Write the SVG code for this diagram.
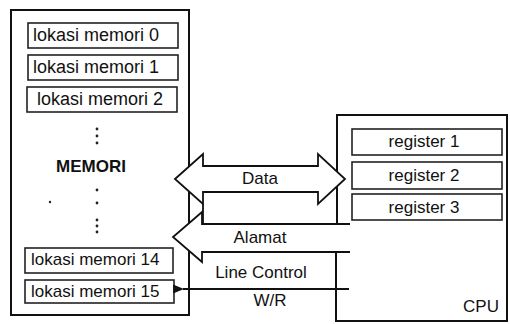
<svg xmlns="http://www.w3.org/2000/svg" width="510" height="324" viewBox="0 0 510 324">
<defs>
<style>
.box{fill:#fff;stroke:#111;stroke-width:2}
.cell{fill:#fff;stroke:#222;stroke-width:1.6}
.t{font-family:"Liberation Sans",Arial,sans-serif;font-size:17px;fill:#111}
.c{font-size:18px}
.b{font-weight:bold}
.dot{fill:#222}
.ln{fill:none;stroke:#111;stroke-width:1.8}
.arr{fill:#fff;stroke:#111;stroke-width:1.8;stroke-linejoin:miter}
</style>
<marker id="ah" viewBox="0 0 12 10" refX="1" refY="5" markerWidth="12" markerHeight="9" orient="auto-start-reverse" markerUnits="userSpaceOnUse">
<path d="M12,0 L0,5 L12,10 z" fill="#111"/>
</marker>
</defs>
<rect width="510" height="324" fill="#fff"/>

<g id="memori">
<rect class="box" x="11" y="10" width="178" height="305"/>
<text class="t b" x="91" y="172" text-anchor="middle">MEMORI</text>
<circle class="dot" cx="97" cy="129" r="1.4"/>
<circle class="dot" cx="97" cy="136" r="1.4"/>
<circle class="dot" cx="97" cy="143" r="1.4"/>
<circle class="dot" cx="97" cy="190" r="1.4"/>
<circle class="dot" cx="50" cy="202" r="1.2"/>
<circle class="dot" cx="97" cy="203" r="1.4"/>
<circle class="dot" cx="97" cy="220" r="1.4"/>
<circle class="dot" cx="97" cy="226" r="1.4"/>
<circle class="dot" cx="97" cy="232" r="1.4"/>
</g>
<g id="cell0"><rect class="cell" x="28" y="23" width="150" height="25"/><text class="t c" x="33" y="41">lokasi memori 0</text></g>
<g id="cell1"><rect class="cell" x="28" y="55" width="150" height="25"/><text class="t c" x="33" y="73">lokasi memori 1</text></g>
<g id="cell2"><rect class="cell" x="27" y="87" width="150" height="25"/><text class="t c" x="37" y="105">lokasi memori 2</text></g>
<g id="cell14"><rect class="cell" x="25" y="248" width="148" height="25"/><text class="t" x="31" y="265">lokasi memori 14</text></g>
<g id="cell15"><rect class="cell" x="25" y="280" width="149" height="23"/><text class="t" x="31" y="297">lokasi memori 15</text></g>

<g id="cpu">
<path class="ln" d="M337,224 V115 H507 V321 H336 V252" style="stroke-width:2"/>
<text class="t" x="499" y="312" text-anchor="end">CPU</text>
</g>
<g id="reg1"><rect class="cell" x="352" y="129" width="150" height="26"/><text class="t" x="424" y="147" text-anchor="middle">register 1</text></g>
<g id="reg2"><rect class="cell" x="352" y="162" width="150" height="27"/><text class="t" x="424" y="181" text-anchor="middle">register 2</text></g>
<g id="reg3"><rect class="cell" x="352" y="194" width="150" height="26"/><text class="t" x="424" y="213" text-anchor="middle">register 3</text></g>

<g id="connectors">
<polygon class="arr" points="175,179 203,154 203,166 318,166 318,154 345,179 318,204 318,192 203,192 203,204"/>
<polyline class="ln" points="203,204 203,224"/>
<path class="arr" d="M350,224 H202 V212 L173,237 L202,262 V252 H350"/>
<line class="ln" x1="349" y1="289" x2="183" y2="289" marker-end="url(#ah)"/>
</g>
<g id="labels">
<text class="t" x="260" y="184" text-anchor="middle">Data</text>
<text class="t" x="260" y="243" text-anchor="middle">Alamat</text>
<text class="t" x="261" y="278" text-anchor="middle">Line Control</text>
<text class="t" x="270" y="306" text-anchor="middle">W/R</text>
</g>
</svg>
